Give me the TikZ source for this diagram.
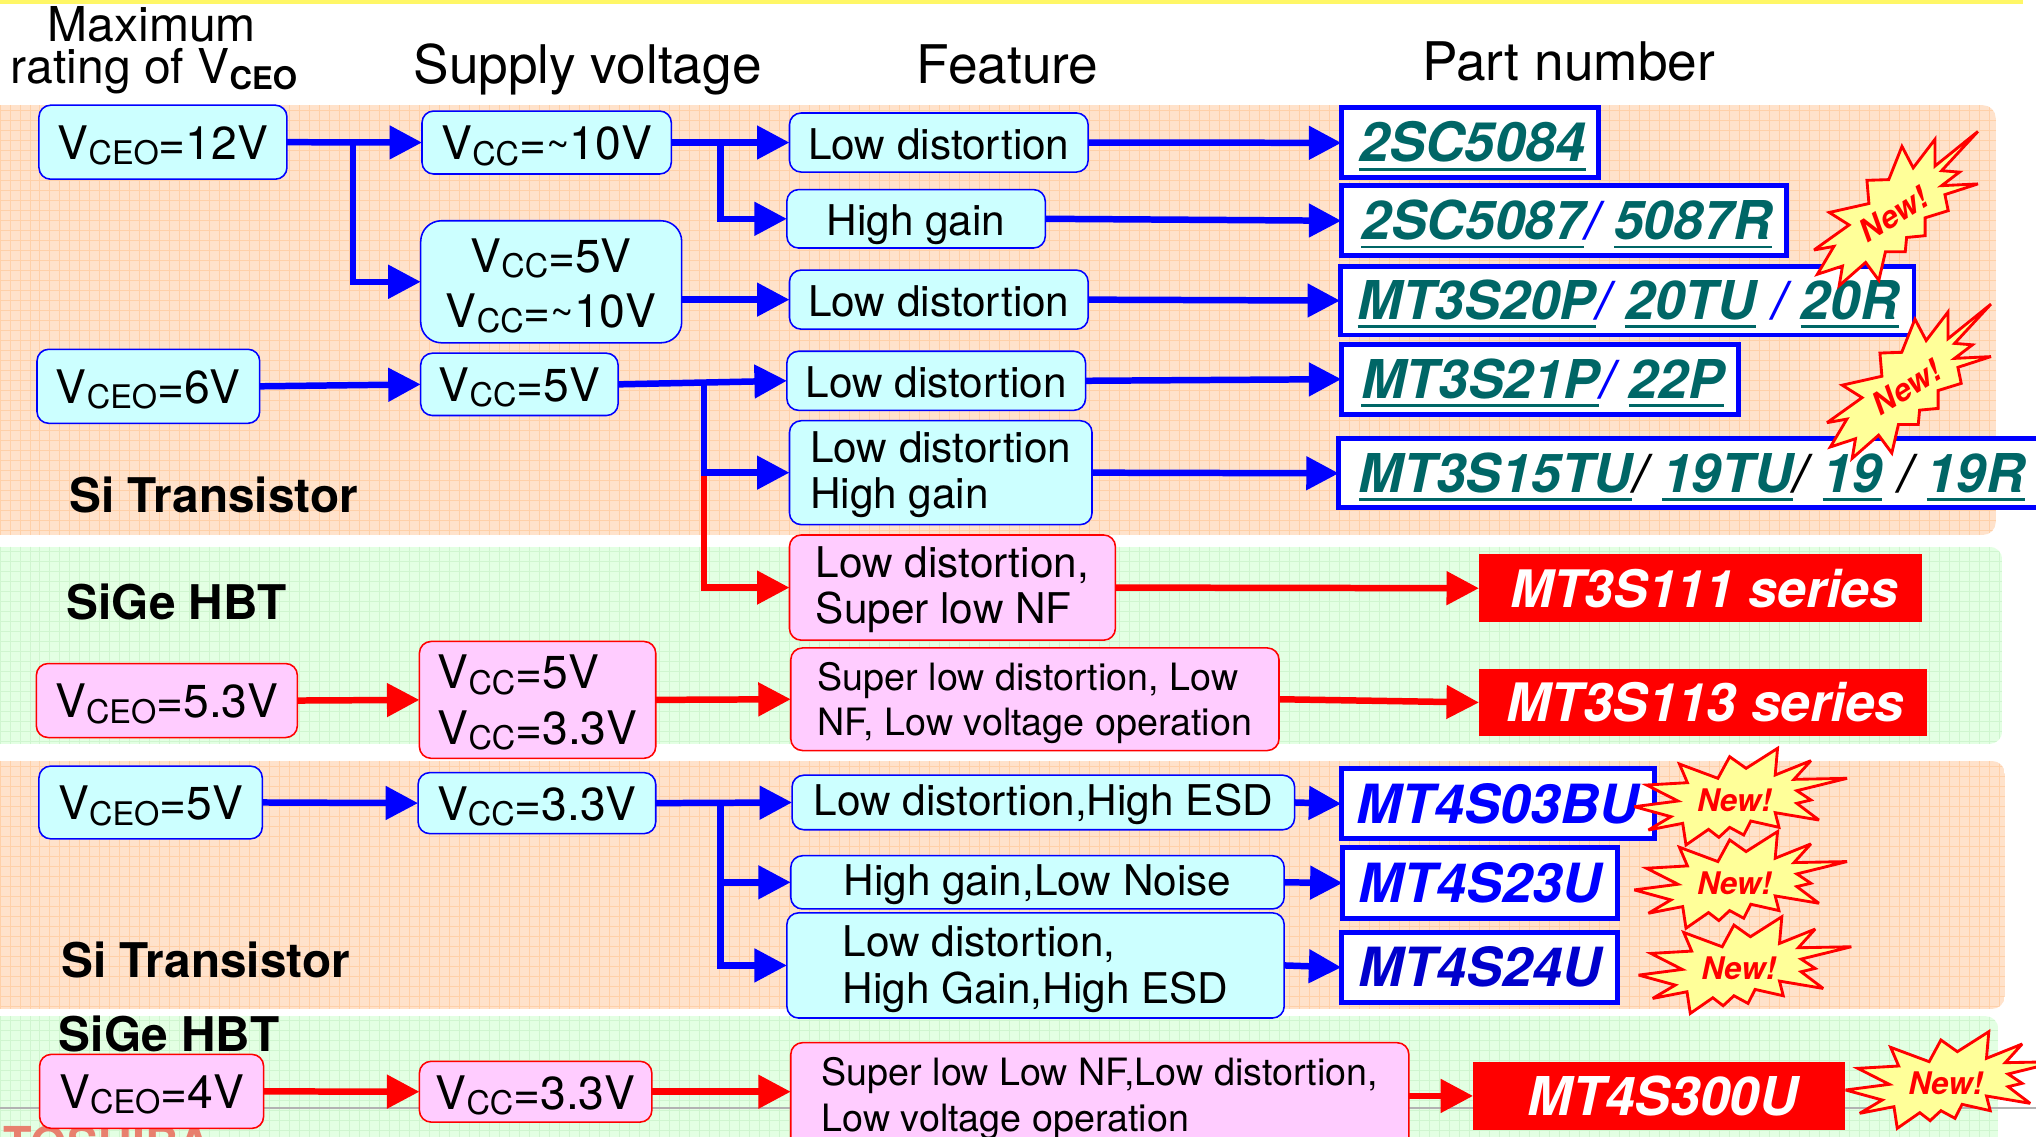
\documentclass[tikz,border=0pt]{standalone}
\usepackage{fontspec}
\setmainfont{TeX Gyre Heros}
\usetikzlibrary{arrows.meta,calc}
\definecolor{blu}{HTML}{0000FF}
\definecolor{rd}{HTML}{FF0000}
\definecolor{cyanfill}{HTML}{CCFFFF}
\definecolor{pinkfill}{HTML}{FFCCFF}
\definecolor{teal}{HTML}{006666}
\definecolor{orbase}{HTML}{FFE2CB}
\definecolor{orline}{HTML}{FFD0A8}
\definecolor{grbase}{HTML}{E3FFE3}
\definecolor{grline}{HTML}{CFF5CF}
\definecolor{staryellow}{HTML}{FFFF99}
\definecolor{logored}{HTML}{E8806E}
\newcommand{\fsz}[1]{\fontsize{#1}{#1}\selectfont}
\newcommand{\sbs}[1]{\raisebox{-2pt}{\fsz{12.5}#1}}
\newcommand{\Vceo}{V\sbs{CEO}}
\newcommand{\Vcc}{V\sbs{CC}}
\newcommand{\tld}{\raisebox{0.5pt}{\fsz{15.5}\textasciitilde}}
\newcommand{\ulx}[1]{\setbox0\hbox{#1}\rlap{\rule[-3.3pt]{\wd0}{1.1pt}}\box0\relax}
\newcommand{\bslash}{{\color{blu}/}}
\newcommand{\fl}[1]{\rule{0pt}{#1pt}}
\tikzset{
  strutted/.style 2 args={execute at begin node={\rule{0pt}{#1pt}},execute at end node={\rule[-#2pt]{0pt}{#2pt}}},
  volt/.style={font=\fsz{17.8},align=center,text=black,strutted={18.4}{5}},
  volttwo/.style={font=\fsz{17.8},align=center,text=black},
  voltl/.style={volttwo,align=left},
  feat/.style={font=\fsz{16.3},align=center,text=black,strutted={17.1}{4}},
  featlow/.style={font=\fsz{16.3},align=center,text=black,strutted={14.1}{4}},
  featl/.style={font=\fsz{16.3},align=left,text=black},
  featsm/.style={font=\fsz{14.5},align=left,text=black},
  bluebox/.style={draw=blu,fill=cyanfill,line width=0.6pt,rounded corners=4.5pt},
  redbox/.style={draw=rd,fill=pinkfill,line width=0.6pt,rounded corners=4.5pt},
  partbox/.style={draw=blu,fill=white,line width=1.9pt,font=\bfseries\itshape\fsz{20.6},text=teal,strutted={18}{3}},
  partnew/.style={partbox,font=\bfseries\itshape\fsz{20.8},text=blu},
  partred/.style={fill=rd,font=\bfseries\itshape\fsz{20.6},text=white,strutted={18}{3}},
  head/.style={font=\fsz{20.5},text=black,inner sep=0pt,anchor=base},
  group/.style={font=\bfseries\fsz{18.4},text=black,inner sep=0pt},
  bluarrow/.style={draw=blu,line width=2.5pt,-{Triangle[length=12.5pt,width=12.5pt]}},
  redarrow/.style={draw=rd,line width=2.5pt,-{Triangle[length=12.5pt,width=12.5pt]}},
  burst/.style={draw=rd,fill=staryellow,line width=1.1pt,line join=miter,miter limit=4},
  newtxt/.style={font=\bfseries\itshape\fsz{12},text=rd,inner sep=0pt}
}
\newcommand{\bx}[7]{%
  \pgfmathsetmacro{\bw}{(#4-#2)*0.5}\pgfmathsetmacro{\bh}{(#5-#3)*0.5}%
  \pgfmathsetmacro{\cx}{(#2+#4)/2}\pgfmathsetmacro{\cy}{(#3+#5)/2}%
  \node[#6,minimum width=\bw pt,minimum height=\bh pt,inner sep=0pt,outer sep=0pt] (#1) at (\cx,\cy) {#7};}
\newcommand{\panel}[7]{% x1 y1 x2 y2 base line
  \begin{scope}
    \clip[rounded corners=5pt] (#1,#2) rectangle (#3,#4);
    \fill[#5] (#1,#2) rectangle (#3,#4);
    \foreach \gx in {0,7.7,...,1560}{\draw[#6,line width=0.38pt] (\gx,#2) -- (\gx,#4);}
    \foreach \gy in {#7}{\draw[#6,line width=0.38pt] (#1,\gy) -- (#3,\gy);}
  \end{scope}}
\newcommand{\stargeneric}{(1017,85) -- (1012,165) -- (1088,122) -- (1052,178) -- (1165,175) -- (1058,212) -- (1088,240) -- (1058,250) -- (1105,300) -- (1012,278) -- (1020,322) -- (960,303) -- (945,345) -- (915,322) -- (892,352) -- (870,328) -- (822,375) -- (815,310) -- (742,330) -- (790,290) -- (712,260) -- (805,243) -- (738,195) -- (825,188) -- (808,132) -- (890,175) -- (915,110) -- (950,145) -- cycle}
\newcommand{\startilt}{(1480,368) -- (1425,478) -- (1452,482) -- (1425,520) -- (1480,515) -- (1430,545) -- (1435,590) -- (1400,610) -- (1400,660) -- (1372,665) -- (1370,705) -- (1340,705) -- (1330,785) -- (1310,735) -- (1270,800) -- (1275,745) -- (1237,768) -- (1262,690) -- (1232,700) -- (1285,630) -- (1255,595) -- (1315,570) -- (1312,505) -- (1345,503) -- (1365,410) -- (1382,470) -- (1415,390) -- (1415,465) -- cycle}
\begin{document}
\begin{tikzpicture}[x=0.5pt,y=-0.5pt]
\useasboundingbox (0,0) rectangle (1568,875);
\clip (0,0) rectangle (1568,875);
\fill[white] (0,0) rectangle (1568,875);
\fill[yellow!60!white] (0,0) rectangle (1558,3);
% panels
\panel{-20}{81}{1537}{412}{orbase}{orline}{85,92.7,...,412}
\panel{-20}{421}{1542}{573}{grbase}{grline}{425,432.7,...,573}
\panel{-20}{586}{1544}{777}{orbase}{orline}{590,597.7,...,777}
\panel{-20}{782.5}{1539}{900}{grbase}{grline}{786,793.7,...,875}
\draw[black!30,line width=0.8pt] (0,853) -- (1568,853);
\node[font=\bfseries\fsz{18},text=logored,anchor=base west,inner sep=0pt] (logo) at (2,894) {TOSHIBA};
% headers
\node[font=\fsz{18.5},inner sep=0pt,anchor=base] (h1) at (117,31.6) {Maximum};
\node[font=\fsz{18.5},inner sep=0pt,anchor=base west] (h1b) at (8,64.6) {rating of V\raisebox{-2pt}{\bfseries\fsz{12}CEO}};
\node[head] (h2) at (452.5,64.6) {Supply voltage};
\node[head] (h3) at (776,64.6) {Feature};
\node[head] (h4) at (1208,62) {Part number};
% group labels
\node[group,anchor=west] (g1) at (53,381) {Si Transistor};
\node[group,anchor=west] (g2) at (51,463.5) {SiGe HBT};
\node[group,anchor=west] (g3) at (47,739) {Si Transistor};
\node[group,anchor=west] (g4) at (45,796.5) {SiGe HBT};
% first column
\bx{v12}{30}{81}{221}{138}{bluebox,volt}{\Vceo=12V}
\bx{v6}{28.5}{269}{200}{326}{bluebox,volt}{\Vceo=6V}
\bx{v53}{28}{511}{229}{568}{redbox,volt}{\Vceo=5.3V}
\bx{v5}{30}{590}{202}{646}{bluebox,volt}{\Vceo=5V}
\bx{v4}{30.5}{812}{203}{869}{redbox,volt}{\Vceo=4V}
% second column
\bx{ca}{325}{85.5}{517}{134}{bluebox,volt}{\Vcc=\tld10V}
\bx{cb}{324}{170}{525}{264}{bluebox,volttwo,rounded corners=8pt}{\fl{16}\Vcc=5V\\[3.5pt]\Vcc=\tld10V}
\bx{cc}{324}{272}{476}{320}{bluebox,volt}{\Vcc=5V}
\bx{cd}{323}{494}{505}{584}{redbox,voltl}{\fl{15}\Vcc=5V\\[3.5pt]\Vcc=3.3V}
\bx{ce}{322}{595}{505}{642}{bluebox,volt}{\Vcc=3.3V}
\bx{cf}{323}{817.5}{502}{864}{redbox,volt}{\Vcc=3.3V}
% feature column
\bx{fa}{608}{87}{838}{132.5}{bluebox,feat}{Low distortion}
\bx{fb}{606}{146}{805}{191}{bluebox,feat}{High gain}
\bx{fc}{608}{208}{838}{253.5}{bluebox,feat}{Low distortion}
\bx{fd}{606}{270.5}{836}{316}{bluebox,feat}{Low distortion}
\bx{fe}{608}{324}{841}{404}{bluebox,featl}{\fl{13.5}Low distortion\\[1.7pt]High gain}
\bx{ff}{608}{412}{859}{493}{redbox,featl}{\fl{13.5}Low distortion,\\[1.7pt]Super low NF}
\bx{fg}{609}{499}{985}{578}{redbox,featsm}{\fl{13.6}Super low distortion, Low\\[3pt]NF, Low voltage operation}
\bx{fh}{610}{597}{997}{639}{bluebox,featlow}{Low distortion,High ESD}
\bx{fi}{609}{659}{989}{700}{bluebox,featlow}{High gain,Low Noise}
\bx{fj}{606}{703}{989}{784}{bluebox,featl}{\fl{14.5}Low distortion,\\[1.7pt]High Gain,High ESD}
\bx{fk}{609}{803}{1085}{885}{redbox,featsm}{\fl{13}Super low Low NF,Low distortion,\\[3pt]Low voltage operation}
% parts
\bx{pa}{1033}{83}{1231}{137}{partbox,font=\bfseries\itshape\fsz{20.9}}{\hspace*{2pt}\ulx{2SC5084}}
\bx{pb}{1033}{143}{1376}{197}{partbox}{\hspace*{2pt}\ulx{2SC5087}\bslash{} \ulx{5087R}}
\bx{pc}{1032}{205}{1474}{258}{partbox}{\hspace*{1pt}\ulx{MT3S20P}\bslash{} \ulx{20TU} \bslash{} \ulx{20R}}
\bx{pd}{1033}{265}{1339}{319}{partbox}{\hspace*{2pt}\ulx{MT3S21P}\bslash{} \ulx{22P}}
\bx{pe}{1031}{338}{1575}{391}{partbox}{\ulx{MT3S15TU}{\color{black}/} \ulx{19TU}{\color{black}/} \ulx{19} {\color{black}/} \ulx{19R}}
\bx{pf}{1139}{427}{1480}{479}{partred,font=\bfseries\itshape\fsz{19.9}}{\hspace*{3pt}MT3S111 series}
\bx{pg}{1139}{515}{1484}{567}{partred,font=\bfseries\itshape\fsz{20.4}}{\hspace*{2pt}MT3S113 series}
\bx{ph}{1033}{592}{1274}{646}{partnew}{MT4S03BU}
\bx{pi}{1034}{653}{1246}{707}{partnew}{MT4S23U}
\bx{pj}{1033}{718}{1246}{772}{partnew,text=blu!80!black}{MT4S24U}
\bx{pk}{1134.5}{818}{1421}{870}{partred}{\hspace*{3pt}MT4S300U}
% junctions
\coordinate (j1) at (272,110);
\coordinate (j2) at (555,110);
\coordinate (j3) at (542,296);
\coordinate (j4) at (542,364);
\coordinate (j5) at (555,619);
% connectors
\draw[bluarrow] (v12.east) -- (ca.west);
\draw[bluarrow] (j1) |- (cb.west);
\draw[bluarrow] (ca.east) -- (fa.west);
\draw[bluarrow] (j2) |- (fb.west);
\draw[bluarrow] (cb.east |- fc.west) -- (fc.west);
\draw[bluarrow] (v6.east) -- (cc.west);
\draw[bluarrow] (cc.east) -- (fd.west);
\draw[redarrow] (j4) |- (ff.west);
\draw[bluarrow] (j3) |- (fe.west);
\draw[redarrow] (v53.east) -- (cd.west);
\draw[redarrow] (cd.east) -- (fg.west);
\draw[bluarrow] (v5.east) -- (ce.west);
\draw[bluarrow] (ce.east) -- (fh.west);
\draw[bluarrow] (j5) |- (fi.west);
\draw[bluarrow] (j5) |- (fj.west);
\draw[redarrow] (v4.east) -- (cf.west);
\draw[redarrow] (cf.east) -- (fk.west |- cf.east);
\draw[bluarrow] (fa.east) -- (pa.west);
\draw[bluarrow] (fb.east) -- (pb.west);
\draw[bluarrow] (fc.east) -- (pc.west);
\draw[bluarrow] (fd.east) -- (pd.west);
\draw[bluarrow] (fe.east) -- (pe.west);
\draw[redarrow] (ff.east) -- (pf.west);
\draw[redarrow] (fg.east) -- (pg.west);
\draw[bluarrow] (fh.east) -- (ph.west);
\draw[bluarrow] (fi.east) -- (pi.west);
\draw[bluarrow] (fj.east) -- (pj.west);
\draw[redarrow] (fk.east |- pk.west) -- (pk.west);
% bursts
\begin{scope}[shift={(770.1,0)},x=0.25445pt,y=-0.1375pt]
  \draw[burst] \startilt;
  \node[newtxt,rotate=32] (n1) at (1352,600) {New!};
\end{scope}
\begin{scope}[shift={(780.1,133)},x=0.25445pt,y=-0.1375pt]
  \draw[burst] \startilt;
  \node[newtxt,rotate=32] (n2) at (1352,600) {New!};
\end{scope}
\begin{scope}[shift={(1001.2,554.5)},x=0.1808pt,y=-0.12834pt]
  \draw[burst] \stargeneric;
  \node[newtxt] (n3) at (925,240) {New!};
\end{scope}
\begin{scope}[shift={(1001.2,618.6)},x=0.1808pt,y=-0.12834pt]
  \draw[burst] \stargeneric;
  \node[newtxt] (n4) at (925,240) {New!};
\end{scope}
\begin{scope}[shift={(1004.5,684.2)},x=0.1808pt,y=-0.12834pt]
  \draw[burst] \stargeneric;
  \node[newtxt] (n5) at (925,240) {New!};
\end{scope}
\begin{scope}[shift={(1163.9,772.7)},x=0.1808pt,y=-0.12834pt]
  \draw[burst] \stargeneric;
  \node[newtxt] (n6) at (925,240) {New!};
\end{scope}
\end{tikzpicture}
\end{document}
